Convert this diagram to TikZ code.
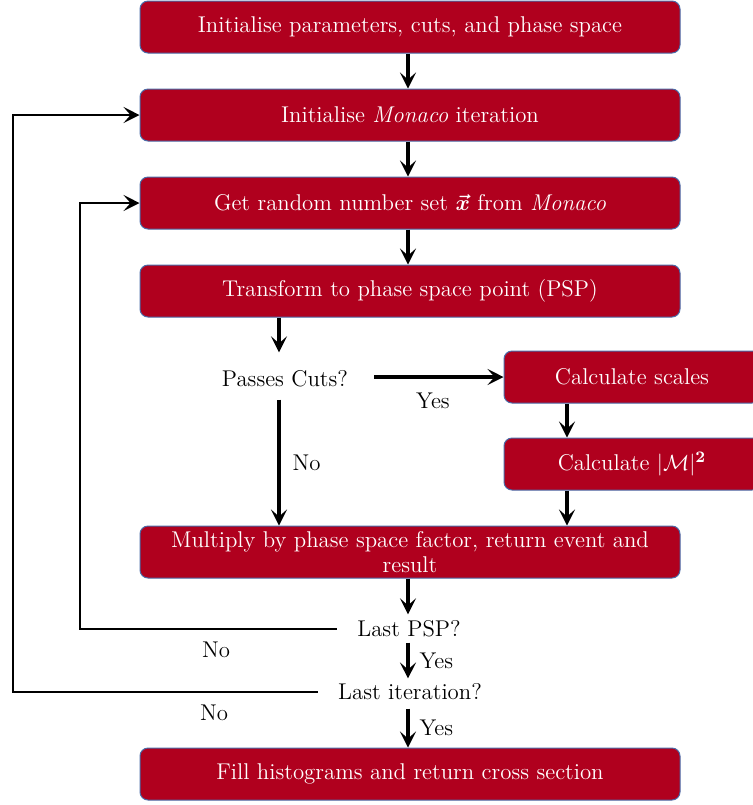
\documentclass[tikz,border=0pt]{standalone}
\usepackage{amsmath,bm}
\usetikzlibrary{arrows.meta,calc}
\definecolor{boxred}{HTML}{B0001E}
\definecolor{boxedge}{HTML}{4A6BA8}
\tikzset{
  procbox/.style={rectangle,rounded corners=4pt,fill=boxred,draw=boxedge,line width=0.5pt,
    text=white,minimum height=26pt,minimum width=270pt,inner sep=1pt,align=center},
  sidebox/.style={procbox,minimum width=128pt},
  decision/.style={inner sep=1pt},
  mainarrow/.style={line width=1.6pt,-{Stealth[length=8pt,width=8pt,inset=3.5pt]}},
  looparrow/.style={line width=1pt,-{Stealth[length=8pt,width=8pt,inset=3.5pt]}},
  lbl/.style={inner sep=1pt}
}
\begin{document}
\begin{tikzpicture}[x=0.5pt,y=-0.5pt,font=\fontsize{11.4}{13.5}\selectfont]
\useasboundingbox (0,0) rectangle (753,805);
\node[procbox] (b1) at (410,27) {Initialise parameters, cuts, and phase space};
\node[procbox] (b2) at (410,115) {Initialise \textit{Monaco} iteration};
\node[procbox] (b3) at (410,203) {Get random number set $\bm{\vec{x}}$ from \textit{Monaco}};
\node[procbox] (b4) at (410,291) {Transform to phase space point (PSP)};
\node[decision] (cuts) at (285,379) {Passes Cuts?};
\node[sidebox] (scales) at (632,377) {Calculate scales};
\node[sidebox] (mat) at (632,464) {Calculate $|\mathcal{M}|^{\bm{2}}$};
\node[procbox,font=\fontsize{11.4}{12.5}\selectfont] (mult) at (410,552) {Multiply by phase space factor, return event and\\ result};
\node[decision] (lpsp) at (409,629) {Last PSP?};
\node[decision] (lit) at (410,692) {Last iteration?};
\node[procbox] (fill) at (410,774) {Fill histograms and return cross section};

\coordinate (cx) at (279,0);
\coordinate (mx) at (567,0);
\coordinate (vx) at (408,0);
\coordinate (l1) at (80,0);
\coordinate (l2) at (13,0);

\draw[mainarrow] (b1.south -| vx) -- (b2.north -| vx);
\draw[mainarrow] (b2.south -| vx) -- (b3.north -| vx);
\draw[mainarrow] (b3.south -| vx) -- (b4.north -| vx);
\draw[mainarrow] (b4.south -| cx) -- ($(cuts.north -| cx)+(0,-16)$);
\draw[mainarrow] ($(cuts.east)+(24,-2)$) -- node[lbl,below=6pt,xshift=-3pt] {Yes} (scales.west |- 0,377);
\draw[mainarrow] ($(cuts.south -| cx)+(0,10)$) -- node[lbl,right=5pt] {No} (mult.north -| cx);
\draw[mainarrow] (scales.south -| mx) -- (mat.north -| mx);
\draw[mainarrow] (mat.south -| mx) -- (mult.north -| mx);
\draw[mainarrow] (mult.south -| vx) -- ($(lpsp.north -| vx)+(0,-4)$);
\draw[mainarrow] ($(lpsp.south -| vx)+(0,3)$) -- node[lbl,right=4pt] {Yes} ($(lit.north -| vx)+(0,-3)$);
\draw[mainarrow] ($(lit.south -| vx)+(0,6)$) -- node[lbl,right=4pt] {Yes} (fill.north -| vx);
\draw[looparrow] ($(lpsp.west)+(-18,0)$) -- node[lbl,below=5pt,pos=0.47] {No} (lpsp.west -| l1) -- (b3.west -| l1) -- (b3.west);
\draw[looparrow] ($(lit.west)+(-18,0)$) -- node[lbl,below=5pt,pos=0.34] {No} (lit.west -| l2) -- (b2.west -| l2) -- (b2.west);
\end{tikzpicture}
\end{document}
